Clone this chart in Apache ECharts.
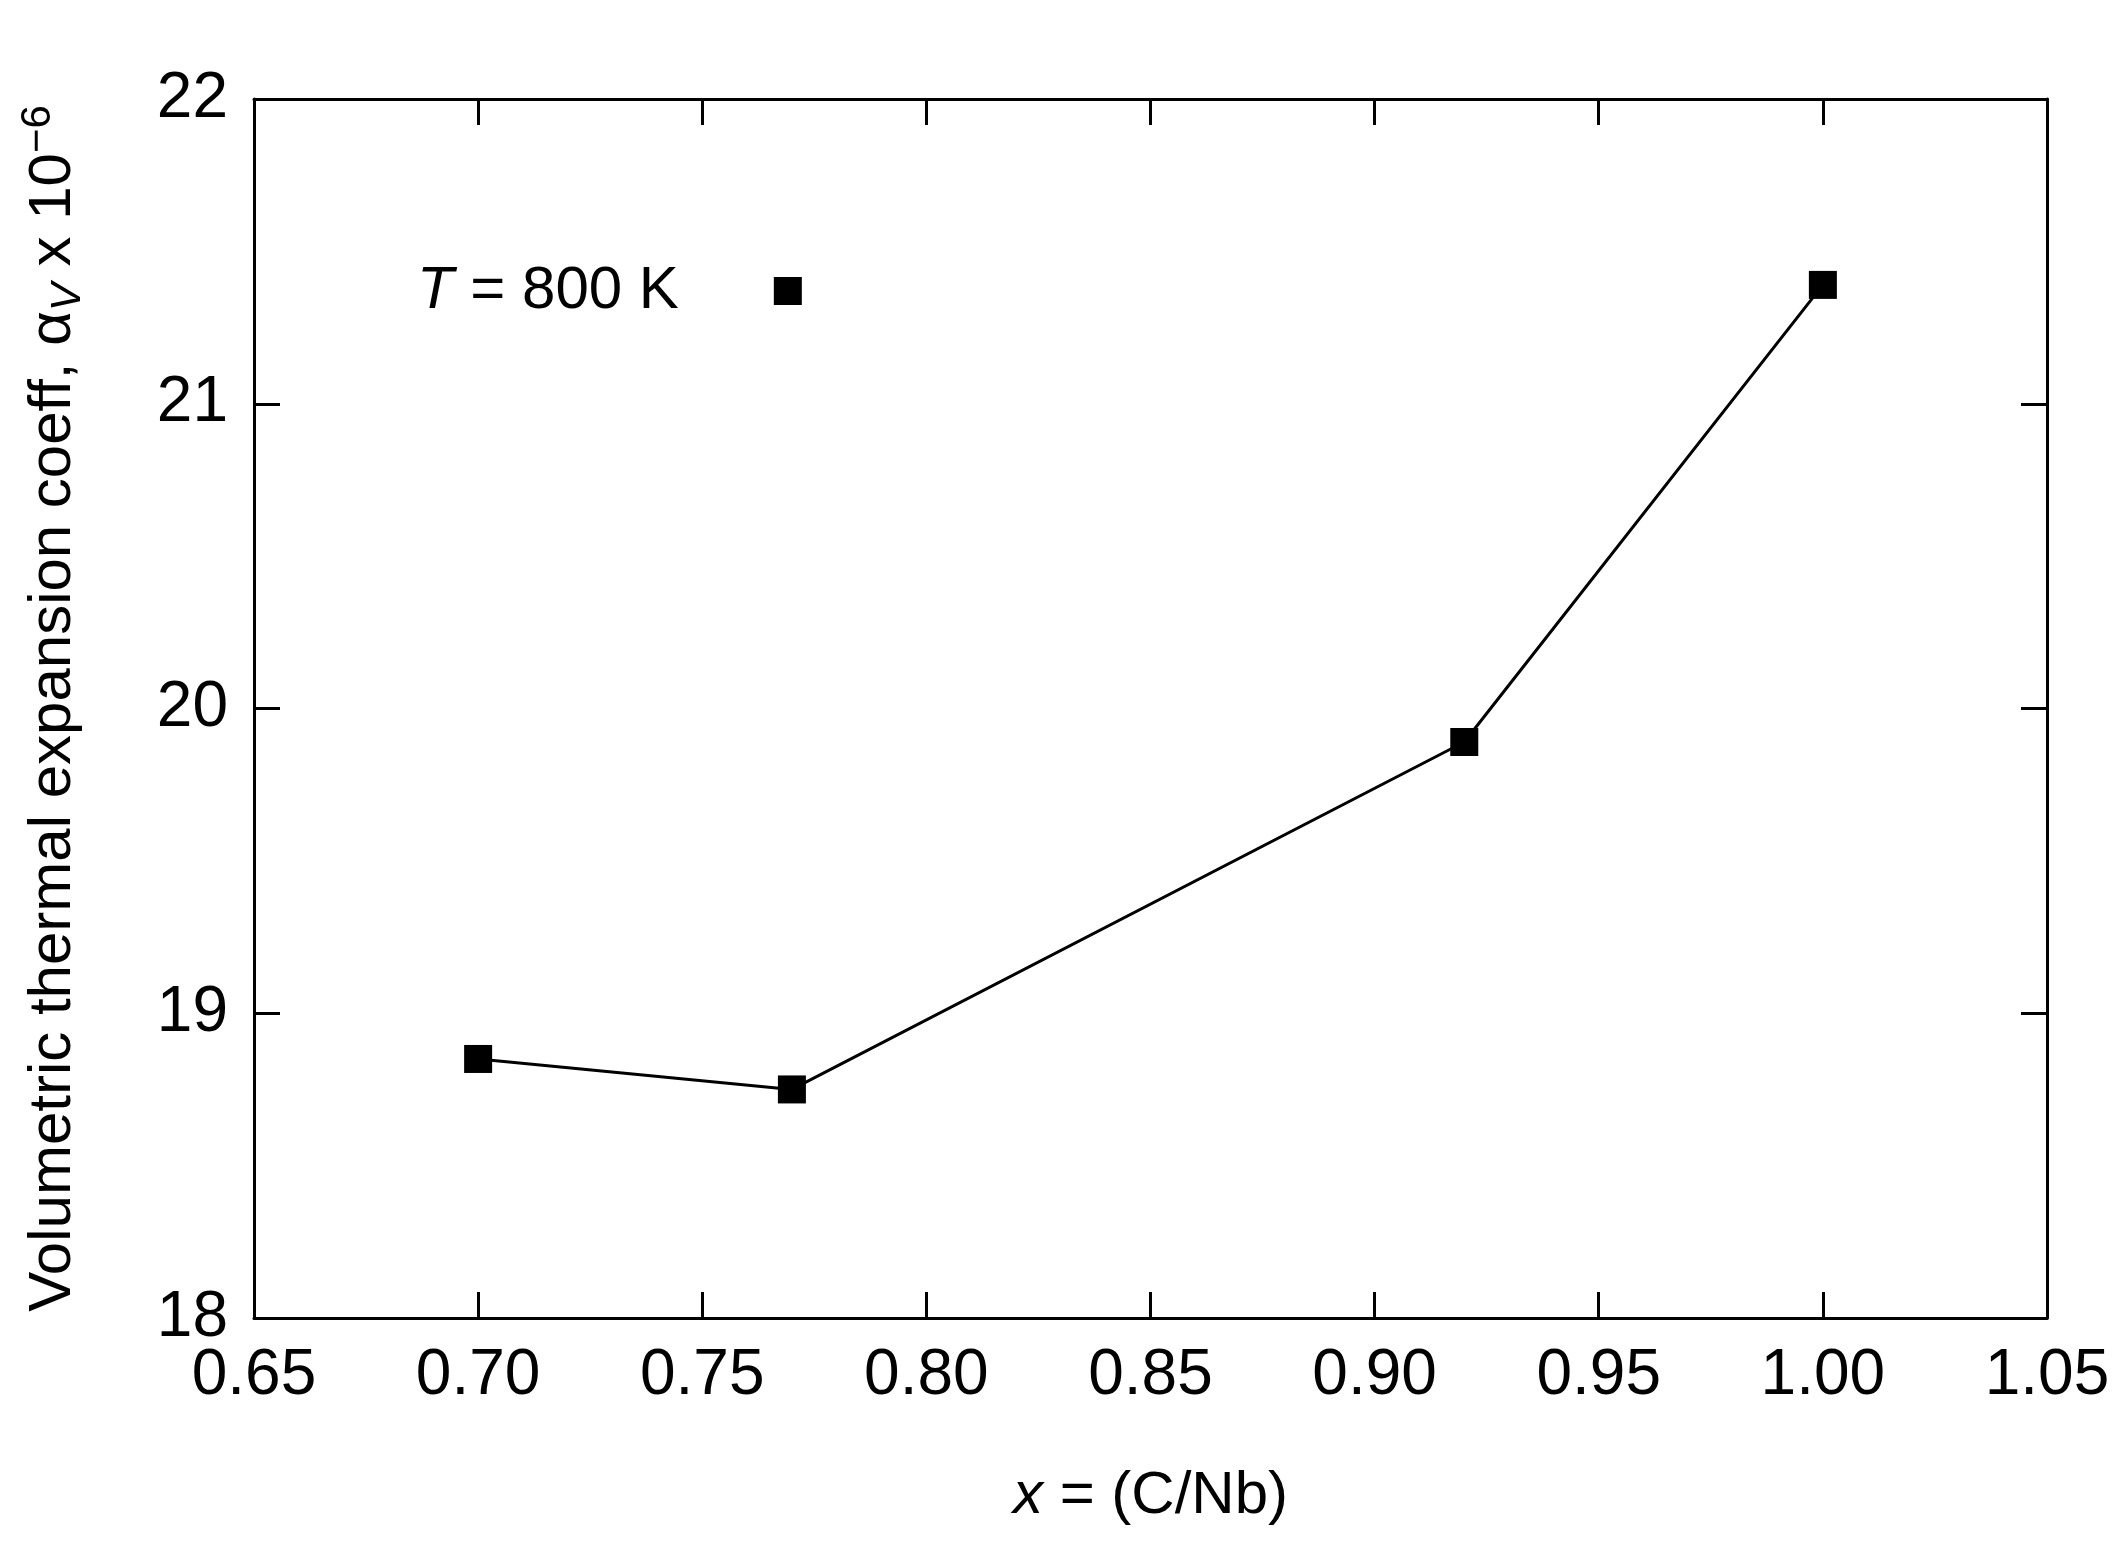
<!DOCTYPE html>
<html><head><meta charset="utf-8">
<script src="https://cdn.jsdelivr.net/npm/echarts@6/dist/echarts.min.js"></script>
<style>html,body{margin:0;background:#fff}#main{width:2128px;height:1543px}</style>
</head><body><div id="main"></div>
<script>
// data
var xValues = [0.70, 0.77, 0.92, 1.00];
var yValues = [18.85, 18.75, 19.89, 21.39];
var seriesName = 'T = 800 K';

var chart = echarts.init(document.getElementById('main'));
var font = 'Liberation Sans';
var axisBase = {
  axisLine: {lineStyle: {color: '#000', width: 3}},
  axisTick: {inside: true, length: 26, lineStyle: {color: '#000', width: 3}},
  splitLine: {show: false}
};
var labelStyle = {color: '#000', fontSize: 64, fontFamily: font};

var option = {
  animation: false,
  grid: {left: 254, right: 81, top: 99, bottom: 225},
  legend: {
    data: [{name: seriesName, icon: 'rect'}],
    left: 412, top: 256, align: 'right',
    itemWidth: 28, itemHeight: 28,
    formatter: function () { return '{i|T} = 800 K{g|}'; },
    textStyle: {color: '#000', fontSize: 60, fontFamily: font,
      rich: {i: {fontStyle: 'italic', fontSize: 60, fontFamily: font},
             g: {width: 90}}}
  },
  xAxis: [
    Object.assign({type: 'value', min: 0.65, max: 1.05, interval: 0.05,
      axisLabel: Object.assign({margin: 26, formatter: function (v) { return v.toFixed(2); }}, labelStyle),
      name: '{i|x} = (C/Nb)', nameLocation: 'middle', nameGap: 148,
      nameTextStyle: Object.assign({rich: {i: {fontStyle: 'italic', fontSize: 60, fontFamily: font}}}, labelStyle, {fontSize: 60})
    }, axisBase),
    Object.assign({type: 'value', position: 'top', min: 0.65, max: 1.05, interval: 0.05,
      axisLabel: {show: false}}, axisBase)
  ],
  yAxis: [
    Object.assign({type: 'value', min: 18, max: 22, interval: 1,
      axisLabel: Object.assign({margin: 26}, labelStyle),
      name: 'Volumetric thermal expansion coeff, α{s|V} x 10{p|−6}',
      nameLocation: 'middle', nameGap: 165,
      nameTextStyle: Object.assign({rich: {
        s: {fontSize: 42, fontStyle: 'italic', fontFamily: font, verticalAlign: 'bottom', padding: [24, 0, 0, 0]},
        p: {fontSize: 42, fontFamily: font, verticalAlign: 'top', padding: [0, 0, 30, 0]}
      }}, labelStyle, {fontSize: 60})
    }, axisBase),
    Object.assign({type: 'value', position: 'right', min: 18, max: 22, interval: 1,
      axisLabel: {show: false}}, axisBase)
  ],
  series: [{
    name: seriesName, type: 'line',
    data: xValues.map(function (x, i) { return [x, yValues[i]]; }),
    symbol: 'rect', symbolSize: 28,
    itemStyle: {color: '#000'},
    lineStyle: {color: '#000', width: 3}
  }]
};
chart.setOption(option);
</script></body></html>
